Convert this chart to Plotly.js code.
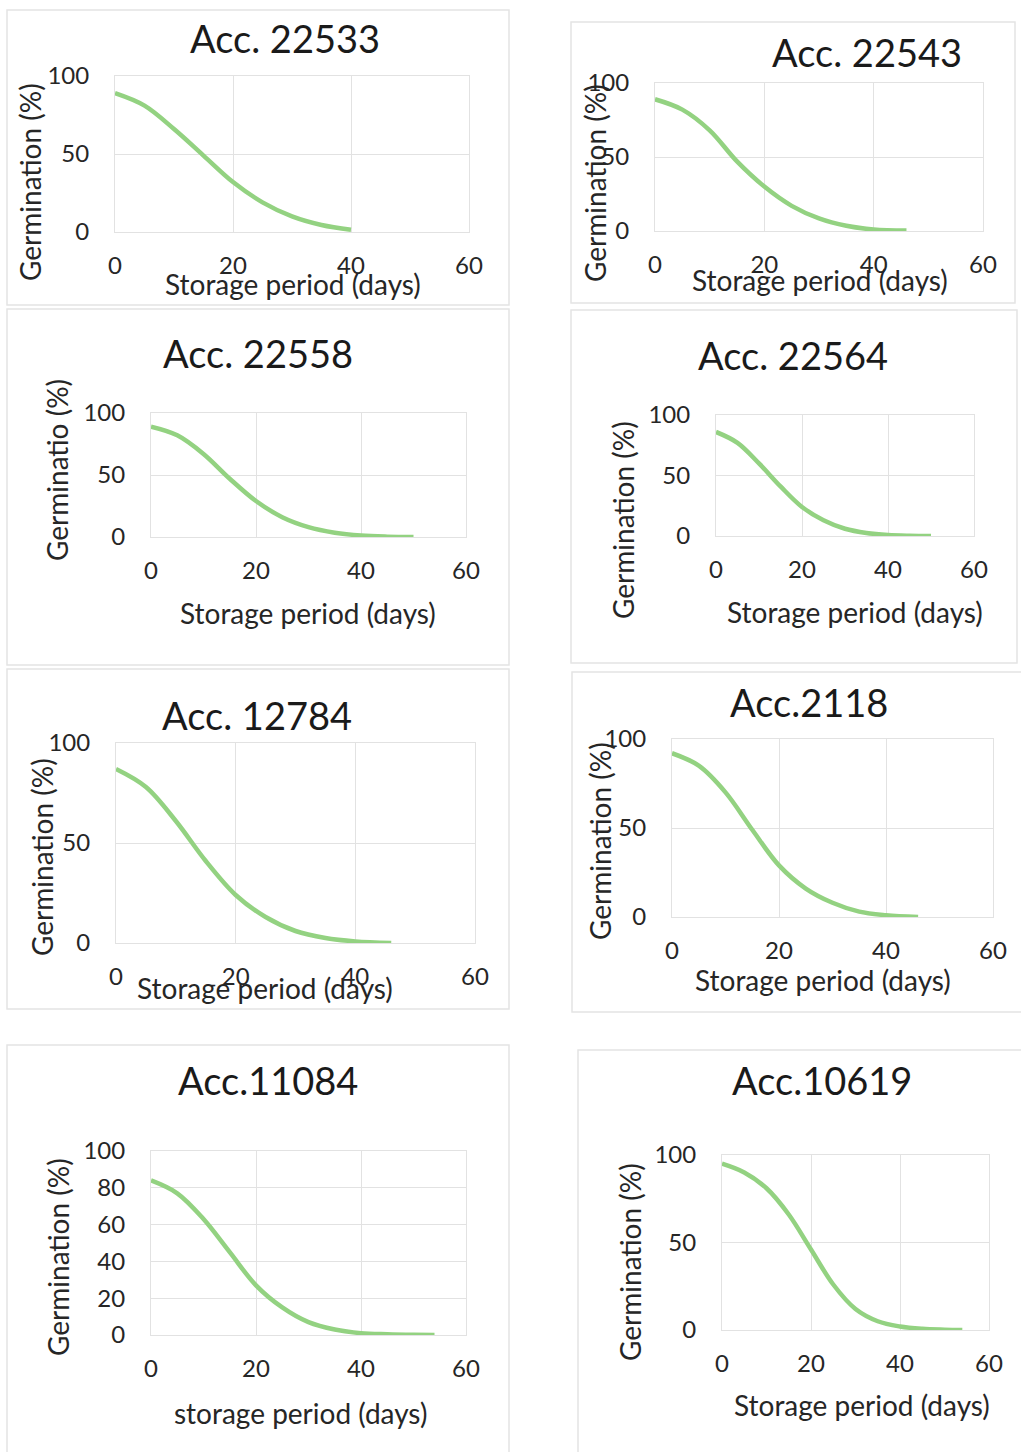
<!DOCTYPE html>
<html><head><meta charset="utf-8">
<script src="https://cdn.plot.ly/plotly-3.0.1.min.js"></script>
<style>html,body{margin:0;padding:0;background:#fff;}#chart{width:1021px;height:1452px;}</style>
</head><body><div id="chart"></div>
<script>
// ---- data ----
const titles = ["Acc. 22533","Acc. 22543","Acc. 22558","Acc. 22564","Acc. 12784","Acc.2118","Acc.11084","Acc.10619"];
const yTitles = ["Germination (%)","Germination (%)","Germinatio (%)","Germination (%)","Germination (%)","Germination (%)","Germination (%)","Germination (%)"];
const xTitles = ["Storage period (days)","Storage period (days)","Storage period (days)","Storage period (days)","Storage period (days)","Storage period (days)","storage period (days)","Storage period (days)"];
const xTickVals = [0,20,40,60];
const yTickVals50 = [0,50,100];
const yTickVals20 = [0,20,40,60,80,100];

const days1 = [0,5,10,15,20,25,30,35,40];
const germ1 = [89,81,66,49,32,19,10,4.5,1.5];
const days2 = [0,5,10,15,20,25,30,35,40,46];
const germ2 = [89,82,68,47,30,17,8.5,3.5,1,0.3];
const days3 = [0,5,10,15,20,25,30,35,40,45,50];
const germ3 = [89,82,67,47,29,16,8,3.5,1.2,0.3,0];
const days4 = [0,5,10,15,20,25,30,35,40,45,50];
const germ4 = [86,77,60,41,24,13,6,2.5,0.8,0.2,0];
const days5 = [0,5,10,15,20,25,30,35,40,46];
const germ5 = [87,78,61,41,24,13,6,2.5,0.8,0];
const days6 = [0,5,10,15,20,25,30,35,40,46];
const germ6 = [92,85,70,49,29,16,8,3,1,0];
const days7 = [0,5,10,15,20,25,30,35,40,45,50,54];
const germ7 = [84,77,63,45,27,15,7,3,1,0.4,0.1,0];
const days8 = [0,5,10,15,20,25,30,35,40,45,50,54];
const germ8 = [95,90,81,66,46,26,12,5,2,0.7,0.2,0];

const daysAll = [days1,days2,days3,days4,days5,days6,days7,days8];
const germAll = [germ1,germ2,germ3,germ4,germ5,germ6,germ7,germ8];

// ---- layout geometry (pixels) ----
const W = 1021, H = 1452;
const geo = [
  {box:[7,10,509,305],   plot:[115,76,469,232],   t:[285,38],   xt:[293,284],  yt:[30,182],  yt20:false},
  {box:[571,22,1015,303],plot:[655,83,983,231],   t:[867,52],   xt:[820,280],  yt:[595,183], yt20:false},
  {box:[7,309,509,665],  plot:[151,413,466,537],  t:[258,353],  xt:[308,613],  yt:[57,470],  yt20:false},
  {box:[571,310,1017,663],plot:[716,415,974,536], t:[793,355],  xt:[855,612],  yt:[623,520], yt20:false},
  {box:[7,669,509,1009], plot:[116,743,475,943],  t:[257,715],  xt:[265,988],  yt:[42,857],  yt20:false},
  {box:[572,672,1025,1012],plot:[672,739,993,917],t:[809,702],  xt:[823,980],  yt:[600,841], yt20:false},
  {box:[7,1045,509,1460],plot:[151,1151,466,1335],t:[268,1080], xt:[300,1413], yt:[58,1257], yt20:true},
  {box:[578,1050,1030,1460],plot:[722,1155,989,1330],t:[822,1080],xt:[862,1405],yt:[630,1262],yt20:false}
];
const px = x => x / W;
const py = y => 1 - y / H;

const FONT = "Lato, 'Open Sans', sans-serif";
const TXT = "#262626";
const GRID = "#e2e2e2";
const GREEN = "#93d281";

const traces = [];
const layout = {
  width: W, height: H,
  margin: {l:0, r:0, t:0, b:0},
  paper_bgcolor: "#ffffff",
  plot_bgcolor: "#ffffff",
  showlegend: false,
  font: {family: FONT, color: TXT, size: 24},
  shapes: [], annotations: []
};

geo.forEach((g, i) => {
  const n = i + 1;
  const sfx = n === 1 ? "" : String(n);
  traces.push({
    type: "scatter", mode: "lines",
    x: daysAll[i], y: germAll[i],
    xaxis: "x" + sfx, yaxis: "y" + sfx,
    line: {color: GREEN, width: 4.5, shape: "spline", smoothing: 1},
    hoverinfo: "skip"
  });
  layout["xaxis" + sfx] = {
    domain: [px(g.plot[0]), px(g.plot[2])],
    anchor: "y" + sfx,
    range: [0, 60], tickvals: xTickVals, ticktext: xTickVals.map(String),
    showgrid: true, gridcolor: GRID, gridwidth: 1,
    showline: true, linecolor: GRID, linewidth: 1, mirror: true,
    zeroline: false, ticks: "",
    ticklabelstandoff: 12,
    tickfont: {family: FONT, color: TXT, size: 24},
    fixedrange: true
  };
  const yv = g.yt20 ? yTickVals20 : yTickVals50;
  layout["yaxis" + sfx] = {
    domain: [py(g.plot[3]), py(g.plot[1])],
    anchor: "x" + sfx,
    range: [0, 100], tickvals: yv, ticktext: yv.map(String),
    showgrid: true, gridcolor: GRID, gridwidth: 1,
    showline: true, linecolor: GRID, linewidth: 1, mirror: true,
    zeroline: false, ticks: "",
    ticklabelstandoff: 20,
    tickfont: {family: FONT, color: TXT, size: 24},
    fixedrange: true
  };
  layout.shapes.push({
    type: "rect", xref: "paper", yref: "paper", layer: "below",
    x0: px(g.box[0]), x1: px(g.box[2]), y0: py(g.box[3]), y1: py(g.box[1]),
    line: {color: "#e4e4e4", width: 1.5}, fillcolor: "rgba(0,0,0,0)"
  });
  layout.annotations.push({
    xref: "paper", yref: "paper", x: px(g.t[0]), y: py(g.t[1]),
    xanchor: "center", yanchor: "middle", showarrow: false,
    text: titles[i], font: {family: FONT, color: "#1a1a1a", size: 38}
  });
  layout.annotations.push({
    xref: "paper", yref: "paper", x: px(g.xt[0]), y: py(g.xt[1]),
    xanchor: "center", yanchor: "middle", showarrow: false,
    text: xTitles[i], font: {family: FONT, color: TXT, size: 28}
  });
  layout.annotations.push({
    xref: "paper", yref: "paper", x: px(g.yt[0]), y: py(g.yt[1]),
    xanchor: "center", yanchor: "middle", showarrow: false, textangle: -90,
    text: yTitles[i], font: {family: FONT, color: TXT, size: 28}
  });
});

Plotly.newPlot("chart", traces, layout, {staticPlot: true, displayModeBar: false});
</script>
</body></html>
